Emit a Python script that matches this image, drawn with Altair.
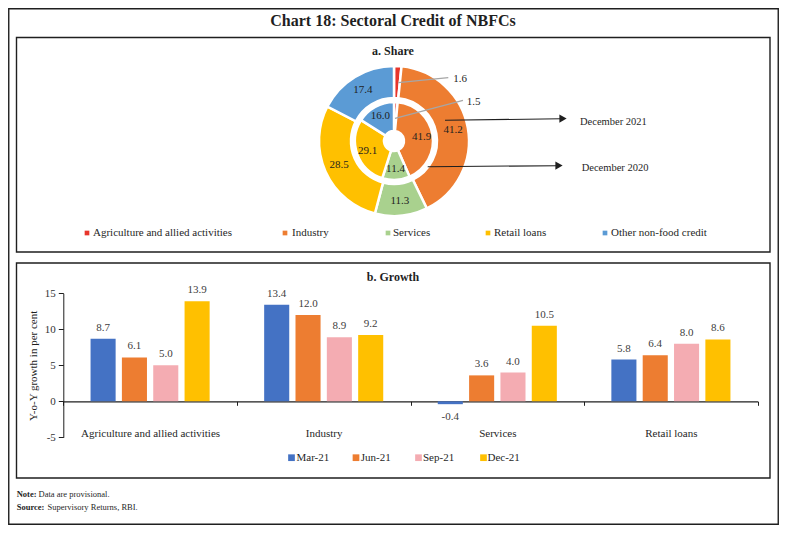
import altair as alt
import pandas as pd

# ---------------- data ----------------
share_sectors = ["Agriculture and allied activities", "Industry", "Services",
                 "Retail loans", "Other non-food credit"]
share_dec2021 = [1.6, 41.2, 11.3, 28.5, 17.4]
share_dec2020 = [1.5, 41.9, 11.4, 29.1, 16.0]
share_colors = ["#E8352B", "#ED7D31", "#A9D18E", "#FFC000", "#5B9BD5"]

growth_sectors = ["Agriculture and allied activities", "Industry", "Services", "Retail loans"]
growth_periods = ["Mar-21", "Jun-21", "Sep-21", "Dec-21"]
growth_colors = ["#4472C4", "#ED7D31", "#F4ACB2", "#FFC000"]
growth_mar21 = [8.7, 13.4, -0.4, 5.8]
growth_jun21 = [6.1, 12.0, 3.6, 6.4]
growth_sep21 = [5.0, 8.9, 4.0, 8.0]
growth_dec21 = [13.9, 9.2, 10.5, 8.6]

# ---------------- tables ----------------
share_df = pd.DataFrame({
    "sector": share_sectors,
    "idx": list(range(len(share_sectors))),
    "color": share_colors,
    "v2021": share_dec2021,
    "v2020": share_dec2020,
})
share_df["lab2021"] = [("" if i == 0 else f"{v:.1f}") for i, v in zip(share_df["idx"], share_df["v2021"])]
share_df["lab2020"] = [("" if i == 0 else f"{v:.1f}") for i, v in zip(share_df["idx"], share_df["v2020"])]

rows = []
series = [growth_mar21, growth_jun21, growth_sep21, growth_dec21]
for p, col, vals in zip(growth_periods, growth_colors, series):
    for s, v in zip(growth_sectors, vals):
        rows.append({"sector": s, "period": p, "color": col, "value": v, "label": f"{v:.1f}"})
growth_df = pd.DataFrame(rows)

FONT = "Liberation Serif"
INK = "#1f1f1f"
ONE = alt.Data(values=[{}])


def txt(s, x, y, size=11, weight="normal", align="center", color=INK, baseline="middle"):
    return alt.Chart(ONE).mark_text(text=s, font=FONT, fontSize=size, fontWeight=weight,
                                    align=align, baseline=baseline, color=color).encode(
        x=alt.value(x), y=alt.value(y))


def box(x0, y0, x1, y1, w=1.4):
    return alt.Chart(ONE).mark_rect(fillOpacity=0, stroke=INK, strokeWidth=w).encode(
        x=alt.value(x0), x2=alt.value(x1), y=alt.value(y0), y2=alt.value(y1))


def seg(x0, y0, x1, y1, color=INK, w=1.0):
    return alt.Chart(ONE).mark_rule(color=color, strokeWidth=w).encode(
        x=alt.value(x0), x2=alt.value(x1), y=alt.value(y0), y2=alt.value(y1))


def sq(x, y, color, size):
    return alt.Chart(ONE).mark_square(color=color, size=size, opacity=1).encode(
        x=alt.value(x), y=alt.value(y))


layers = []

# frames
layers.append(box(0.75, 0.75, 770.25, 516.25))
layers.append(box(8.5, 29.5, 762, 244))
layers.append(box(8.5, 255, 762, 470))

# titles
layers.append(txt("Chart 18: Sectoral Credit of NBFCs", 385, 13, size=16, weight="bold"))
layers.append(txt("a. Share", 385, 43, size=12, weight="bold"))
layers.append(txt("b. Growth", 385, 269, size=12, weight="bold"))

# ---------------- donut ----------------
CX, CY = 386, 133


def ring(field, r0, r1):
    return alt.Chart(share_df).mark_arc(innerRadius=r0, outerRadius=r1, stroke="white",
                                        strokeWidth=2.5).encode(
        theta=alt.Theta(f"{field}:Q", stack=True),
        order=alt.Order("idx:Q"),
        color=alt.Color("color:N", scale=None),
        x=alt.value(CX), y=alt.value(CY))


def ring_text(field, lab, r):
    return alt.Chart(share_df).mark_text(radius=r, font=FONT, fontSize=11, color=INK).encode(
        theta=alt.Theta(f"{field}:Q", stack=True),
        order=alt.Order("idx:Q"),
        text=alt.Text(f"{lab}:N"),
        x=alt.value(CX), y=alt.value(CY))


layers.append(ring("v2021", 43, 75))
layers.append(ring("v2020", 10, 39))
layers.append(ring_text("v2021", "lab2021", 60))
layers.append(ring_text("v2020", "lab2020", 28))

# leader lines and small labels
layers.append(seg(390.3, 74.7, 440.3, 69.7, color="#A6A6A6", w=1.2))
layers.append(txt(f"{share_dec2021[0]:.1f}", 445.3, 71, size=11, align="left"))
layers.append(seg(387, 110.3, 455, 92.3, color="#A6A6A6", w=1.2))
layers.append(txt(f"{share_dec2020[0]:.1f}", 458.7, 93.7, size=11, align="left"))

# arrows
layers.append(seg(437, 112.3, 553, 110.7, w=1.1))
layers.append(alt.Chart(ONE).mark_point(shape="triangle-right", filled=True, size=70,
                                        color=INK, opacity=1).encode(
    x=alt.value(555), y=alt.value(110.6)))
layers.append(txt("December 2021", 572, 113.7, size=10.5, align="left"))
layers.append(seg(419.7, 158.7, 549, 157.7, w=1.1))
layers.append(alt.Chart(ONE).mark_point(shape="triangle-right", filled=True, size=70,
                                        color=INK, opacity=1).encode(
    x=alt.value(551), y=alt.value(157.6)))
layers.append(txt("December 2020", 573.7, 160.3, size=10.5, align="left"))

# donut legend
share_leg_sq = [79, 277, 380, 480, 597]
share_leg_tx = [85, 284, 385, 486, 603]
for name, col, xs, xt in zip(share_sectors, share_colors, share_leg_sq, share_leg_tx):
    layers.append(sq(xs, 225, col, 22))
    layers.append(txt(name, xt, 225, size=11, align="left"))

# ---------------- bars ----------------
x_enc = alt.X("sector:N", sort=growth_sectors,
              scale=alt.Scale(range=[55.3, 749.7], paddingInner=0, paddingOuter=0),
              axis=alt.Axis(title=None, orient="bottom", offset=-123.7, tickBand="extent",
                            tickSize=4, domainColor=INK, tickColor=INK, domainWidth=1.3,
                            labelAngle=0, labelPadding=22, labelFont=FONT, labelFontSize=11,
                            labelColor=INK, labelLimit=300, grid=False))
xo_enc = alt.XOffset("period:N", sort=growth_periods,
                     scale=alt.Scale(paddingInner=0.2, paddingOuter=0.87))
y_scale = alt.Scale(domain=[-5, 15], range=[429.3, 285.3], nice=False, zero=False)
y_enc = alt.Y("value:Q", scale=y_scale,
              axis=alt.Axis(values=[-5, 0, 5, 10, 15], labelExpr="'' + datum.value", grid=False,
                            domainColor=INK, tickColor=INK, tickSize=5, labelPadding=3,
                            labelFont=FONT, labelFontSize=11, labelColor="#333333",
                            offset=-55.3, title="Y-o-Y growth in per cent", titleFont=FONT,
                            titleFontSize=11, titleFontWeight="normal", titleColor=INK,
                            titlePadding=6))

bars = alt.Chart(growth_df).mark_bar().encode(
    x=x_enc, xOffset=xo_enc, y=y_enc, color=alt.Color("color:N", scale=None))
lab_pos = alt.Chart(growth_df).transform_filter("datum.value >= 0").mark_text(
    font=FONT, fontSize=11, color="#404040", baseline="bottom", dy=-6).encode(
    x=x_enc, xOffset=xo_enc, y=y_enc, text="label:N")
lab_neg = alt.Chart(growth_df).transform_filter("datum.value < 0").mark_text(
    font=FONT, fontSize=11, color="#404040", baseline="top", dy=7).encode(
    x=x_enc, xOffset=xo_enc, y=y_enc, text="label:N")
layers.append(bars)
layers.append(lab_pos)
layers.append(lab_neg)

# bar legend
growth_leg_sq = [283.5, 348, 410.5, 475.5]
growth_leg_tx = [288.5, 352.7, 415, 479.5]
for name, col, xs, xt in zip(growth_periods, growth_colors, growth_leg_sq, growth_leg_tx):
    layers.append(sq(xs, 449.7, col, 45))
    layers.append(txt(name, xt, 449.7, size=11, align="left"))

# notes
layers.append(txt("Note:", 8.7, 486, size=8.5, weight="bold", align="left"))
layers.append(txt("Data are provisional.", 30.5, 486, size=8.5, align="left"))
layers.append(txt("Source:", 8.7, 498.5, size=8.5, weight="bold", align="left"))
layers.append(txt("Supervisory Returns, RBI.", 39.5, 498.5, size=8.5, align="left"))

chart = alt.layer(*layers).resolve_scale(theta="independent").properties(
    width=771, height=517, autosize=alt.AutoSizeParams(type="none"), padding=0
).configure_view(stroke="transparent").configure_axis(grid=False)

chart.save("out.html", embed_options={"renderer": "svg", "actions": False})
